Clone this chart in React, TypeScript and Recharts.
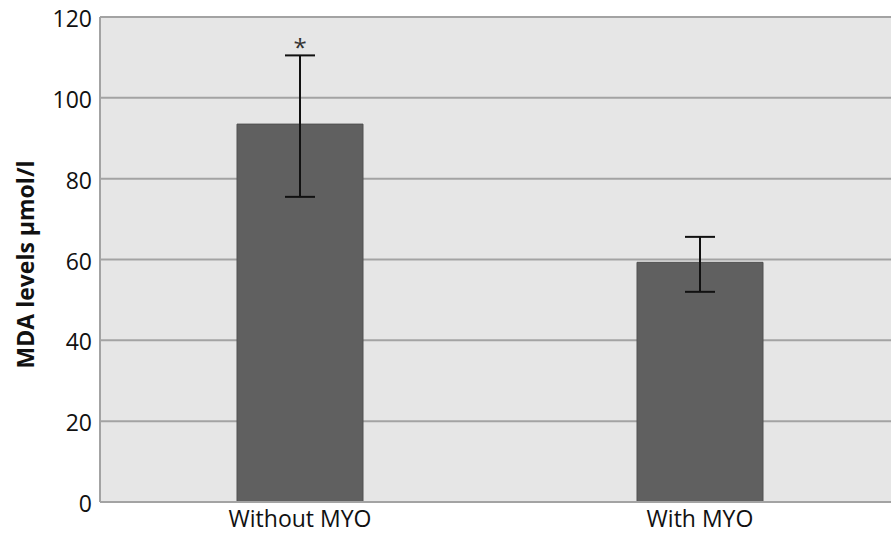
import { BarChart, Bar, XAxis, YAxis, CartesianGrid, ErrorBar, ReferenceDot } from 'recharts';

// categories and values
const categories = ['Without MYO', 'With MYO'];
const mdaMeans = [93.5, 59.3];
const errLow = [18, 7.3];
const errHigh = [17, 6.3];
const yTicks = [0, 20, 40, 60, 80, 100, 120];
const marks = ['*', ''];

const data = categories.map((name, i) => ({
  name,
  mda: mdaMeans[i],
  err: [errLow[i], errHigh[i]],
}));

const font = '"Open Sans", Lato, sans-serif';
const gridColor = '#a3a3a3';

const YLabel = (props: any) => {
  const { x, y, height } = props.viewBox;
  const cx = x + 25;
  const cy = y + height / 2 + 5;
  return (
    <text
      x={cx}
      y={cy}
      transform={`rotate(-90, ${cx}, ${cy})`}
      textAnchor="middle"
      dominantBaseline="central"
      fontFamily={font}
      fontWeight="bold"
      fontSize={23}
      fill="#111"
    >
      MDA levels μmol/l
    </text>
  );
};

const Star = (props: any) => {
  const { x, y, width } = props.viewBox;
  return (
    <text x={x + (width || 0) / 2} y={y + 1} textAnchor="middle" fontFamily={font} fontSize={24} fill="#333">
      {props.value}
    </text>
  );
};

export default function App() {
  return (
    <div style={{ position: 'fixed', left: 0, top: 0, width: 891, height: 535, overflow: 'hidden', background: '#fff' }}>
      <BarChart width={900} height={535} data={data} margin={{ top: 17, right: 0, left: 0, bottom: 0 }}>
        <CartesianGrid vertical={false} stroke={gridColor} strokeWidth={2} fill="#e6e6e6" />
        <XAxis
          dataKey="name"
          height={33}
          tickLine={false}
          tickSize={0}
          tickMargin={9}
          axisLine={{ stroke: gridColor, strokeWidth: 2 }}
          tick={{ fontFamily: font, fontSize: 23, fill: '#111' }}
        />
        <YAxis
          width={100}
          domain={[0, 120]}
          ticks={yTicks}
          tickLine={false}
          tickSize={0}
          tickMargin={8}
          axisLine={{ stroke: gridColor, strokeWidth: 2 }}
          tick={{ fontFamily: font, fontSize: 23, fill: '#111', dy: 2 }}
          label={{ content: YLabel }}
        />
        <Bar dataKey="mda" fill="#606060" stroke="#505050" strokeWidth={1} barSize={126} isAnimationActive={false}>
          <ErrorBar dataKey="err" width={15} stroke="#111" strokeWidth={2} isAnimationActive={false} />
        </Bar>
        {categories.map((c, i) =>
          marks[i] ? (
            <ReferenceDot
              key={c}
              x={c}
              y={mdaMeans[i] + errHigh[i]}
              r={0}
              label={{ value: marks[i], content: Star }}
            />
          ) : null
        )}
      </BarChart>
    </div>
  );
}
